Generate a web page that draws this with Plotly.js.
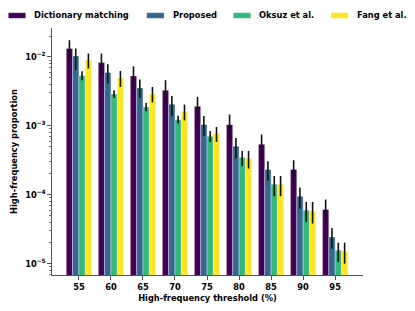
<!DOCTYPE html>
<html>
<head>
<meta charset="utf-8">
<script src="https://cdn.plot.ly/plotly-3.0.1.min.js"></script>
<style>html,body{margin:0;padding:0;background:#fff;}#chart{width:415px;height:311px;}</style>
</head>
<body>
<div id="chart"></div>
<script>
const thresholds = ['55','60','65','70','75','80','85','90','95'];

const dictVals  = [0.01325, 0.0083, 0.0053, 0.00329, 0.00192, 0.00104, 0.00054, 0.000232, 0.000061];
const dictHigh  = [0.0175, 0.0112, 0.00733, 0.0046, 0.00263, 0.00146, 0.000748, 0.000317, 0.0000851];
const dictLow   = [0.00896, 0.00525, 0.00336, 0.00206, 0.00117, 0.000632, 0.000335, 0.000142, 0.0000382];

const propVals  = [0.01035, 0.00594, 0.00355, 0.00206, 0.00105, 0.000506, 0.000232, 0.000095, 0.0000244];
const propHigh  = [0.01325, 0.00783, 0.0047, 0.00272, 0.00139, 0.000667, 0.000306, 0.000127, 0.000033];
const propLow   = [0.0064, 0.00411, 0.00254, 0.00138, 0.00071, 0.000335, 0.000159, 0.000063, 0.0000166];

const oksuzVals = [0.00537, 0.0029, 0.00188, 0.00123, 0.000706, 0.000347, 0.000142, 0.0000596, 0.0000156];
const oksuzHigh = [0.0062, 0.00329, 0.00215, 0.0014, 0.000843, 0.000433, 0.000187, 0.0000787, 0.0000202];
const oksuzLow  = [0.0046, 0.00254, 0.00163, 0.00108, 0.000583, 0.00026, 0.000095, 0.0000404, 0.0000106];

const fangVals  = [0.00895, 0.00496, 0.0029, 0.00161, 0.00078, 0.000335, 0.000142, 0.0000576, 0.0000151];
const fangHigh  = [0.0112, 0.00627, 0.00367, 0.00203, 0.000964, 0.000433, 0.000187, 0.0000787, 0.0000202];
const fangLow   = [0.0068, 0.00367, 0.00218, 0.0012, 0.000583, 0.00024, 0.000095, 0.0000382, 0.00001];

const seriesNames = ['Dictionary matching', 'Proposed', 'Oksuz et al.', 'Fang et al.'];
const colors = ['#440154', '#31688e', '#35b779', '#fde725'];

const yTickVals = [1e-5, 1e-4, 1e-3, 1e-2];
const yTickText = ['10<sup>−5</sup>', '10<sup>−4</sup>', '10<sup>−3</sup>', '10<sup>−2</sup>'];

const allSeries = [
  [dictVals, dictHigh, dictLow],
  [propVals, propHigh, propLow],
  [oksuzVals, oksuzHigh, oksuzLow],
  [fangVals, fangHigh, fangLow]
];

const minorVals = [];
for (let e = -6; e <= -1; e++) {
  for (let m = 2; m <= 9; m++) minorVals.push(m * Math.pow(10, e));
}

const W = 415, H = 311, ML = 52, MR = 52, MT = 28, MB = 36;
const px2x = p => (p - ML) / (W - ML - MR);
const px2y = p => (H - MB - p) / (H - MT - MB);
const FS = 8.3;

// legend layout (pixel positions of swatch starts)
const legendSwatchX = [8.3, 146.7, 233.3, 331];
const swatchW = 17.4, swatchTop = 12.7, swatchBot = 18.3, textGap = 6.5, legendMidY = 15.5;

const shapes = [];
const annotations = [];
seriesNames.forEach((name, i) => {
  const x0 = legendSwatchX[i];
  shapes.push({
    type: 'rect', xref: 'paper', yref: 'paper',
    x0: px2x(x0), x1: px2x(x0 + swatchW), y0: px2y(swatchBot), y1: px2y(swatchTop),
    fillcolor: colors[i], line: {width: 0.6, color: 'rgba(255,255,255,0.5)'}
  });
  annotations.push({
    xref: 'paper', yref: 'paper', x: px2x(x0 + swatchW + textGap), y: px2y(legendMidY),
    xanchor: 'left', yanchor: 'middle', showarrow: false,
    text: '<b>' + name + '</b>',
    font: {family: 'DejaVu Sans', size: FS, color: '#000'}
  });
});

const traces = allSeries.map((s, i) => ({
  type: 'bar',
  name: seriesNames[i],
  x: thresholds.map((t, k) => k),
  y: s[0],
  marker: {color: colors[i], line: {color: 'rgba(255,255,255,0.45)', width: 0.8}},
  error_y: {
    type: 'data', symmetric: false,
    array: s[1].map((h, k) => h - s[0][k]),
    arrayminus: s[0].map((v, k) => v - s[2][k]),
    color: '#111', thickness: 1.6, width: 0
  }
}));

const layout = {
  width: W, height: H,
  margin: {l: ML, r: MR, t: MT, b: MB, pad: 0},
  paper_bgcolor: '#fff', plot_bgcolor: '#fff',
  font: {family: 'DejaVu Sans', size: FS, color: '#000'},
  barmode: 'group', bargap: 0.21, bargroupgap: 0,
  showlegend: false,
  shapes: shapes,
  annotations: annotations,
  xaxis: {
    range: [-0.84, 8.87],
    tickvals: thresholds.map((t, k) => k),
    ticktext: thresholds,
    showgrid: false, zeroline: false,
    showline: true, linecolor: '#555', linewidth: 1.2,
    ticks: 'outside', ticklen: 3.5, tickwidth: 1, tickcolor: '#555',
    tickfont: {family: 'DejaVu Sans', size: FS, color: '#000', weight: 'bold'},
    title: {text: '<b>High-frequency threshold (%)</b>', font: {family: 'DejaVu Sans', size: FS, color: '#000'}, standoff: 4}
  },
  yaxis: {
    type: 'log',
    range: [-5.165, -1.58],
    tickvals: yTickVals, ticktext: yTickText,
    showgrid: false, zeroline: false,
    showline: true, linecolor: '#555', linewidth: 1.2,
    ticks: 'outside', ticklen: 3.5, tickwidth: 1, tickcolor: '#555',
    tickfont: {family: 'DejaVu Sans', size: FS, color: '#000', weight: 'bold'},
    minor: {tickvals: minorVals, ticks: 'outside', ticklen: 2, tickwidth: 0.8, tickcolor: '#555', showgrid: false},
    title: {text: '<b>High-frequency proportion</b>', font: {family: 'DejaVu Sans', size: FS, color: '#000'}, standoff: 6}
  }
};

Plotly.newPlot('chart', traces, layout, {displayModeBar: false, staticPlot: true});
</script>
</body>
</html>
